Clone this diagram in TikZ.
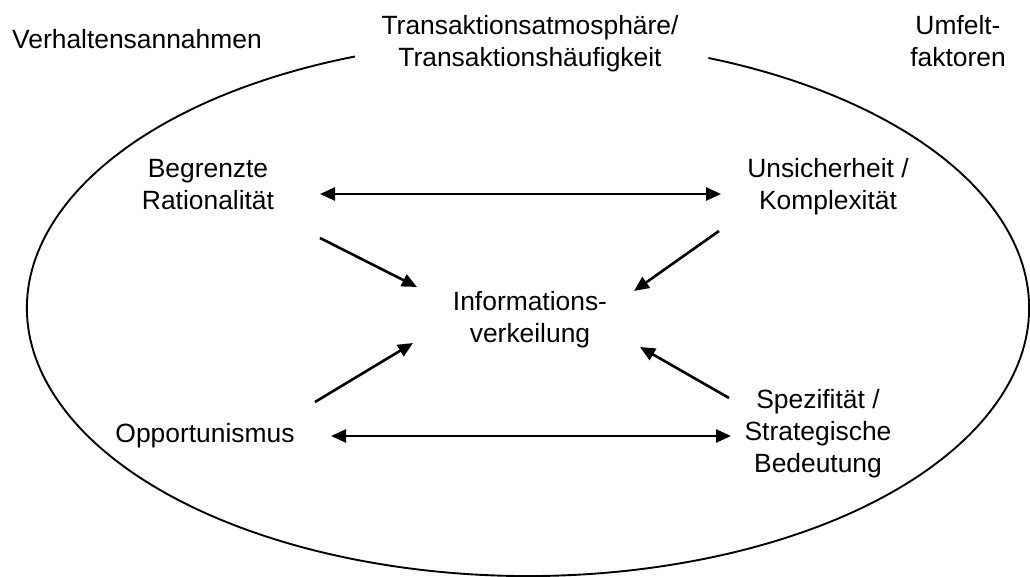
\documentclass[tikz,border=0pt]{standalone}
\usepackage{fontspec}
\setmainfont{Liberation Sans}
\usetikzlibrary{arrows.meta}
\begin{document}
\begin{tikzpicture}[x=1pt,y=1pt,
  lbl/.style={inner sep=0pt, align=center, anchor=base,
    font=\fontsize{26.4}{32}\selectfont},
  link/.style={line width=2.6pt, -{Triangle[length=15pt,width=13pt]}},
  twoway/.style={line width=2.6pt, {Triangle[length=15pt,width=13pt]}-{Triangle[length=15pt,width=13pt]}}]
\useasboundingbox (0,0) rectangle (1030,577);

% outer ellipse, open at the top for the heading
\coordinate (C) at (528,269);
\draw[line width=1.9pt] ([shift={(110.2:501 and 268)}]C)
  arc[start angle=110.2, end angle=428.9, x radius=501, y radius=268];

% headings (base = baseline of the last line)
\node[lbl, anchor=base west] (verh) at (12,528) {Verhaltensannahmen};
\node[lbl] (trans) at (530,510) {Transaktionsatmosphäre/\\Transaktionshäufigkeit};
\node[lbl] (umf) at (958,510) {Umfelt-\\faktoren};

% factors
\node[lbl] (begr) at (208,367) {Begrenzte\\Rationalität};
\node[lbl] (unsi) at (828,367) {Unsicherheit /\\Komplexität};
\node[lbl] (info) at (530,234) {Informations-\\verkeilung};
\node[lbl] (oppo) at (205,134) {Opportunismus};
\node[lbl] (spez) at (818,104) {Spezifität /\\Strategische\\Bedeutung};

% arrow end points
\coordinate (a1) at (320,383); \coordinate (a2) at (721,383);
\coordinate (b1) at (331,141); \coordinate (b2) at (731,141);
\coordinate (tl) at (320,339); \coordinate (tlh) at (417,290);
\coordinate (tr) at (719,346); \coordinate (trh) at (634,286);
\coordinate (bl) at (315,175); \coordinate (blh) at (413,234);
\coordinate (br) at (729,179); \coordinate (brh) at (640,230);

\draw[twoway] (a1) -- (a2);
\draw[twoway] (b1) -- (b2);
\draw[link] (tl) -- (tlh);
\draw[link] (tr) -- (trh);
\draw[link] (bl) -- (blh);
\draw[link] (br) -- (brh);
\end{tikzpicture}
\end{document}
